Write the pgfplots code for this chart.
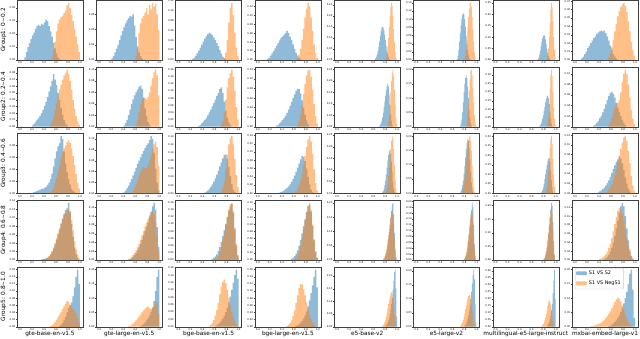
\documentclass[border=0pt]{standalone}
\usepackage{pgfplots}
\pgfplotsset{compat=1.18}
\usepgfplotslibrary{groupplots}
\usepackage{fontspec}
\setmainfont{DejaVu Sans}
\definecolor{bl}{HTML}{1F77B4}
\definecolor{or}{HTML}{FF7F0E}
\pgfplotsset{
  hb/.style={ybar interval, draw=none, fill=bl, fill opacity=0.5},
  ho/.style={ybar interval, draw=none, fill=or, fill opacity=0.5},
}
\begin{document}
\begin{tikzpicture}
\begin{groupplot}[
  group style={group size=8 by 5, horizontal sep=13.3pt, vertical sep=6.7pt},
  scale only axis, width=66pt, height=60pt,
  xmin=-0.05, xmax=1.05, ymin=0,
  enlarge y limits={value=0.05,upper},
  xtick={0,0.2,0.4,0.6,0.8,1}, xticklabels={0.0,0.2,0.4,0.6,0.8,1.0},
  scaled y ticks=false,
  /pgf/number format/fixed, /pgf/number format/fixed zerofill,
  /pgf/number format/precision=2, /pgf/number format/assume math mode=true,
  max space between ticks=10,
  tick align=outside, tick pos=left, major tick length=1pt,
  axis line style={black!75, line width=0.3pt},
  every tick/.style={black!75, line width=0.3pt},
  tick label style={font=\fontsize{2.5}{3}\selectfont, inner sep=0.6pt},
  every axis x label/.style={at={(axis description cs:0.5,0)}, anchor=north, yshift=-4pt,
    font=\fontsize{5.8}{7}\selectfont, inner sep=0pt},
  every axis y label/.style={at={(axis description cs:-0.16,0.5)}, rotate=90, anchor=south,
    font=\fontsize{5.8}{7}\selectfont, inner sep=0pt},
]
% ---------- Group 1 ----------
\nextgroupplot[ylabel={Group1: 0\textasciitilde 0.2}]
\addplot[hb] coordinates {(0.075,0.002)(0.1,0.006)(0.125,0.010)(0.15,0.013)(0.175,0.016)(0.2,0.019)(0.225,0.021)(0.25,0.024)(0.275,0.026)(0.3,0.027)(0.325,0.026)(0.35,0.028)(0.375,0.027)(0.4,0.029)(0.425,0.031)(0.45,0.030)(0.475,0.026)(0.5,0.022)(0.525,0.018)(0.55,0.013)(0.575,0.009)(0.6,0.005)(0.625,0.002)(0.65,0.001)(0.675,0)};
\addplot[ho] coordinates {(0.525,0.002)(0.55,0.008)(0.575,0.014)(0.6,0.022)(0.625,0.028)(0.65,0.031)(0.675,0.033)(0.7,0.034)(0.725,0.036)(0.75,0.038)(0.775,0.042)(0.8,0.044)(0.825,0.040)(0.85,0.035)(0.875,0.030)(0.9,0.024)(0.925,0.018)(0.95,0.012)(0.975,0.006)(1.0,0)};
\nextgroupplot
\addplot[hb] coordinates {(0.2,0.002)(0.225,0.005)(0.25,0.010)(0.275,0.015)(0.3,0.020)(0.325,0.026)(0.35,0.032)(0.375,0.038)(0.4,0.043)(0.425,0.048)(0.45,0.052)(0.475,0.055)(0.5,0.058)(0.525,0.057)(0.55,0.060)(0.575,0.045)(0.6,0.030)(0.625,0.018)(0.65,0.010)(0.675,0.005)(0.7,0.002)(0.725,0)};
\addplot[ho] coordinates {(0.6,0.005)(0.625,0.015)(0.65,0.035)(0.675,0.048)(0.7,0.055)(0.725,0.058)(0.75,0.062)(0.775,0.068)(0.8,0.060)(0.825,0.072)(0.85,0.066)(0.875,0.075)(0.9,0.070)(0.925,0.074)(0.95,0.060)(0.975,0.040)(1.0,0)};
\nextgroupplot
\addplot[hb] coordinates {(0.225,0.002)(0.25,0.005)(0.275,0.009)(0.3,0.014)(0.325,0.019)(0.35,0.025)(0.375,0.031)(0.4,0.037)(0.425,0.043)(0.45,0.048)(0.475,0.052)(0.5,0.055)(0.525,0.053)(0.55,0.050)(0.575,0.045)(0.6,0.040)(0.625,0.034)(0.65,0.028)(0.675,0.020)(0.7,0.013)(0.725,0.007)(0.75,0.003)(0.775,0.001)(0.8,0)};
\addplot[ho] coordinates {(0.75,0.004)(0.775,0.015)(0.8,0.040)(0.825,0.075)(0.85,0.105)(0.875,0.115)(0.9,0.090)(0.925,0.055)(0.95,0.025)(0.975,0.008)(1.0,0)};
\nextgroupplot
\addplot[hb] coordinates {(0.15,0.002)(0.175,0.005)(0.2,0.010)(0.225,0.015)(0.25,0.020)(0.275,0.026)(0.3,0.032)(0.325,0.038)(0.35,0.044)(0.375,0.050)(0.4,0.053)(0.425,0.057)(0.45,0.060)(0.475,0.065)(0.5,0.060)(0.525,0.052)(0.55,0.045)(0.575,0.035)(0.6,0.025)(0.625,0.016)(0.65,0.010)(0.675,0.005)(0.7,0.002)(0.725,0)};
\addplot[ho] coordinates {(0.65,0.005)(0.675,0.012)(0.7,0.025)(0.725,0.045)(0.75,0.070)(0.775,0.095)(0.8,0.115)(0.825,0.128)(0.85,0.120)(0.875,0.095)(0.9,0.065)(0.925,0.035)(0.95,0.015)(0.975,0.004)(1.0,0)};
\nextgroupplot
\addplot[hb] coordinates {(0.625,0.003)(0.6375,0.008)(0.65,0.015)(0.6625,0.025)(0.675,0.040)(0.6875,0.060)(0.7,0.085)(0.7125,0.110)(0.725,0.130)(0.7375,0.145)(0.75,0.150)(0.7625,0.148)(0.775,0.135)(0.7875,0.115)(0.8,0.090)(0.8125,0.065)(0.825,0.042)(0.8375,0.025)(0.85,0.013)(0.8625,0.006)(0.875,0.002)(0.8875,0)};
\addplot[ho] coordinates {(0.8,0.004)(0.8125,0.012)(0.825,0.030)(0.8375,0.060)(0.85,0.100)(0.8625,0.150)(0.875,0.200)(0.8875,0.240)(0.9,0.260)(0.9125,0.245)(0.925,0.200)(0.9375,0.140)(0.95,0.080)(0.9625,0.035)(0.975,0.012)(0.9875,0.003)(1.0,0)};
\nextgroupplot
\addplot[hb] coordinates {(0.675,0.003)(0.6875,0.010)(0.7,0.025)(0.7125,0.045)(0.725,0.065)(0.7375,0.085)(0.75,0.100)(0.7625,0.110)(0.775,0.115)(0.7875,0.112)(0.8,0.100)(0.8125,0.082)(0.825,0.060)(0.8375,0.040)(0.85,0.024)(0.8625,0.012)(0.875,0.005)(0.8875,0.002)(0.9,0)};
\addplot[ho] coordinates {(0.8,0.003)(0.8125,0.010)(0.825,0.025)(0.8375,0.050)(0.85,0.080)(0.8625,0.105)(0.875,0.125)(0.8875,0.138)(0.9,0.140)(0.9125,0.130)(0.925,0.105)(0.9375,0.075)(0.95,0.045)(0.9625,0.020)(0.975,0.007)(0.9875,0)};
\nextgroupplot
\addplot[hb] coordinates {(0.7,0.003)(0.7125,0.010)(0.725,0.022)(0.7375,0.040)(0.75,0.060)(0.7625,0.080)(0.775,0.095)(0.7875,0.105)(0.8,0.110)(0.8125,0.105)(0.825,0.090)(0.8375,0.070)(0.85,0.050)(0.8625,0.032)(0.875,0.018)(0.8875,0.008)(0.9,0.003)(0.9125,0)};
\addplot[ho] coordinates {(0.85,0.005)(0.8625,0.020)(0.875,0.050)(0.8875,0.100)(0.9,0.160)(0.9125,0.220)(0.925,0.250)(0.9375,0.230)(0.95,0.170)(0.9625,0.100)(0.975,0.045)(0.9875,0.012)(1.0,0)};
\nextgroupplot
\addplot[hb] coordinates {(0.1,0.002)(0.125,0.004)(0.15,0.007)(0.175,0.010)(0.2,0.014)(0.225,0.017)(0.25,0.020)(0.275,0.023)(0.3,0.026)(0.325,0.028)(0.35,0.031)(0.375,0.033)(0.4,0.034)(0.425,0.035)(0.45,0.034)(0.475,0.035)(0.5,0.032)(0.525,0.028)(0.55,0.023)(0.575,0.017)(0.6,0.012)(0.625,0.007)(0.65,0.004)(0.675,0.002)(0.7,0)};
\addplot[ho] coordinates {(0.55,0.003)(0.575,0.008)(0.6,0.015)(0.625,0.024)(0.65,0.034)(0.675,0.043)(0.7,0.052)(0.725,0.058)(0.75,0.063)(0.775,0.066)(0.8,0.068)(0.825,0.064)(0.85,0.057)(0.875,0.046)(0.9,0.034)(0.925,0.022)(0.95,0.012)(0.975,0.005)(1.0,0)};
% ---------- Group 2 ----------
\nextgroupplot[ylabel={Group2: 0.2\textasciitilde 0.4}]
\addplot[hb] coordinates {(0.2,0.002)(0.225,0.004)(0.25,0.007)(0.275,0.010)(0.3,0.013)(0.325,0.016)(0.35,0.020)(0.375,0.025)(0.4,0.031)(0.425,0.037)(0.45,0.044)(0.475,0.052)(0.5,0.060)(0.525,0.068)(0.55,0.078)(0.575,0.070)(0.6,0.062)(0.625,0.050)(0.65,0.040)(0.675,0.028)(0.7,0.018)(0.725,0.010)(0.75,0.005)(0.775,0.002)(0.8,0)};
\addplot[ho] coordinates {(0.5,0.003)(0.525,0.008)(0.55,0.015)(0.575,0.025)(0.6,0.035)(0.625,0.045)(0.65,0.055)(0.675,0.063)(0.7,0.070)(0.725,0.076)(0.75,0.080)(0.775,0.085)(0.8,0.078)(0.825,0.068)(0.85,0.055)(0.875,0.040)(0.9,0.027)(0.925,0.016)(0.95,0.008)(0.975,0.003)(1.0,0)};
\nextgroupplot
\addplot[hb] coordinates {(0.4,0.002)(0.425,0.006)(0.45,0.012)(0.475,0.020)(0.5,0.030)(0.525,0.040)(0.55,0.048)(0.575,0.055)(0.6,0.060)(0.625,0.065)(0.65,0.070)(0.675,0.072)(0.7,0.066)(0.725,0.050)(0.75,0.032)(0.775,0.018)(0.8,0.008)(0.825,0.003)(0.85,0)};
\addplot[ho] coordinates {(0.6,0.004)(0.625,0.012)(0.65,0.025)(0.675,0.038)(0.7,0.048)(0.725,0.052)(0.75,0.050)(0.775,0.048)(0.8,0.052)(0.825,0.060)(0.85,0.072)(0.875,0.085)(0.9,0.095)(0.925,0.100)(0.95,0.090)(0.975,0.055)(1.0,0)};
\nextgroupplot
\addplot[hb] coordinates {(0.325,0.002)(0.35,0.005)(0.375,0.009)(0.4,0.014)(0.425,0.019)(0.45,0.025)(0.475,0.032)(0.5,0.040)(0.525,0.048)(0.55,0.057)(0.575,0.066)(0.6,0.076)(0.625,0.086)(0.65,0.095)(0.675,0.105)(0.7,0.110)(0.725,0.095)(0.75,0.070)(0.775,0.045)(0.8,0.025)(0.825,0.012)(0.85,0.005)(0.875,0)};
\addplot[ho] coordinates {(0.7,0.004)(0.725,0.015)(0.75,0.040)(0.775,0.075)(0.8,0.110)(0.825,0.135)(0.85,0.150)(0.875,0.160)(0.9,0.140)(0.925,0.100)(0.95,0.055)(0.975,0.020)(1.0,0)};
\nextgroupplot
\addplot[hb] coordinates {(0.3,0.002)(0.325,0.004)(0.35,0.007)(0.375,0.010)(0.4,0.014)(0.425,0.018)(0.45,0.023)(0.475,0.029)(0.5,0.036)(0.525,0.043)(0.55,0.052)(0.575,0.060)(0.6,0.068)(0.625,0.075)(0.65,0.080)(0.675,0.079)(0.7,0.070)(0.725,0.055)(0.75,0.040)(0.775,0.025)(0.8,0.013)(0.825,0.005)(0.85,0)};
\addplot[ho] coordinates {(0.65,0.004)(0.675,0.012)(0.7,0.025)(0.725,0.045)(0.75,0.068)(0.775,0.090)(0.8,0.108)(0.825,0.118)(0.85,0.120)(0.875,0.105)(0.9,0.078)(0.925,0.048)(0.95,0.022)(0.975,0.007)(1.0,0)};
\nextgroupplot
\addplot[hb] coordinates {(0.7,0.003)(0.7125,0.008)(0.725,0.015)(0.7375,0.025)(0.75,0.040)(0.7625,0.060)(0.775,0.085)(0.7875,0.110)(0.8,0.135)(0.8125,0.160)(0.825,0.180)(0.8375,0.190)(0.85,0.175)(0.8625,0.140)(0.875,0.095)(0.8875,0.055)(0.9,0.025)(0.9125,0.008)(0.925,0)};
\addplot[ho] coordinates {(0.8375,0.005)(0.85,0.020)(0.8625,0.050)(0.875,0.095)(0.8875,0.150)(0.9,0.200)(0.9125,0.235)(0.925,0.250)(0.9375,0.220)(0.95,0.160)(0.9625,0.095)(0.975,0.040)(0.9875,0.012)(1.0,0)};
\nextgroupplot
\addplot[hb] coordinates {(0.725,0.003)(0.7375,0.010)(0.75,0.025)(0.7625,0.050)(0.775,0.085)(0.7875,0.120)(0.8,0.150)(0.8125,0.170)(0.825,0.180)(0.8375,0.170)(0.85,0.140)(0.8625,0.100)(0.875,0.060)(0.8875,0.030)(0.9,0.012)(0.9125,0.004)(0.925,0)};
\addplot[ho] coordinates {(0.825,0.004)(0.8375,0.015)(0.85,0.040)(0.8625,0.080)(0.875,0.125)(0.8875,0.165)(0.9,0.195)(0.9125,0.200)(0.925,0.180)(0.9375,0.135)(0.95,0.085)(0.9625,0.040)(0.975,0.014)(0.9875,0.003)(1.0,0)};
\nextgroupplot
\addplot[hb] coordinates {(0.725,0.003)(0.7375,0.008)(0.75,0.016)(0.7625,0.028)(0.775,0.045)(0.7875,0.065)(0.8,0.090)(0.8125,0.115)(0.825,0.140)(0.8375,0.160)(0.85,0.175)(0.8625,0.180)(0.875,0.165)(0.8875,0.130)(0.9,0.085)(0.9125,0.045)(0.925,0.018)(0.9375,0.005)(0.95,0)};
\addplot[ho] coordinates {(0.85,0.005)(0.8625,0.020)(0.875,0.060)(0.8875,0.130)(0.9,0.220)(0.9125,0.300)(0.925,0.330)(0.9375,0.290)(0.95,0.200)(0.9625,0.110)(0.975,0.045)(0.9875,0.012)(1.0,0)};
\nextgroupplot
\addplot[hb] coordinates {(0.3,0.002)(0.325,0.004)(0.35,0.007)(0.375,0.011)(0.4,0.016)(0.425,0.021)(0.45,0.027)(0.475,0.034)(0.5,0.042)(0.525,0.050)(0.55,0.058)(0.575,0.064)(0.6,0.066)(0.625,0.062)(0.65,0.055)(0.675,0.045)(0.7,0.036)(0.725,0.028)(0.75,0.020)(0.775,0.013)(0.8,0.007)(0.825,0.003)(0.85,0)};
\addplot[ho] coordinates {(0.55,0.003)(0.575,0.008)(0.6,0.016)(0.625,0.026)(0.65,0.036)(0.675,0.042)(0.7,0.045)(0.725,0.050)(0.75,0.065)(0.775,0.085)(0.8,0.100)(0.825,0.108)(0.85,0.100)(0.875,0.080)(0.9,0.055)(0.925,0.032)(0.95,0.015)(0.975,0.005)(1.0,0)};
% ---------- Group 3 ----------
\nextgroupplot[ylabel={Group3: 0.4\textasciitilde 0.6}]
\addplot[hb] coordinates {(0.2,0.001)(0.225,0.002)(0.25,0.003)(0.275,0.004)(0.3,0.005)(0.325,0.006)(0.35,0.007)(0.375,0.008)(0.4,0.009)(0.425,0.011)(0.45,0.014)(0.475,0.018)(0.5,0.024)(0.525,0.033)(0.55,0.045)(0.575,0.058)(0.6,0.070)(0.625,0.078)(0.65,0.083)(0.675,0.095)(0.7,0.090)(0.725,0.070)(0.75,0.050)(0.775,0.035)(0.8,0.024)(0.825,0.015)(0.85,0.008)(0.875,0.004)(0.9,0.002)(0.925,0)};
\addplot[ho] coordinates {(0.5,0.002)(0.525,0.005)(0.55,0.010)(0.575,0.017)(0.6,0.026)(0.625,0.036)(0.65,0.047)(0.675,0.058)(0.7,0.068)(0.725,0.075)(0.75,0.080)(0.775,0.085)(0.8,0.088)(0.825,0.084)(0.85,0.075)(0.875,0.062)(0.9,0.047)(0.925,0.032)(0.95,0.018)(0.975,0.008)(1.0,0)};
\nextgroupplot
\addplot[hb] coordinates {(0.4,0.002)(0.425,0.005)(0.45,0.009)(0.475,0.014)(0.5,0.020)(0.525,0.026)(0.55,0.033)(0.575,0.040)(0.6,0.047)(0.625,0.054)(0.65,0.060)(0.675,0.066)(0.7,0.072)(0.725,0.078)(0.75,0.083)(0.775,0.088)(0.8,0.092)(0.825,0.098)(0.85,0.105)(0.875,0.100)(0.9,0.075)(0.925,0.045)(0.95,0.020)(0.975,0.006)(1.0,0)};
\addplot[ho] coordinates {(0.525,0.002)(0.55,0.005)(0.575,0.010)(0.6,0.017)(0.625,0.025)(0.65,0.033)(0.675,0.040)(0.7,0.045)(0.725,0.048)(0.75,0.046)(0.775,0.047)(0.8,0.052)(0.825,0.060)(0.85,0.070)(0.875,0.082)(0.9,0.090)(0.925,0.095)(0.95,0.085)(0.975,0.050)(1.0,0)};
\nextgroupplot
\addplot[hb] coordinates {(0.425,0.002)(0.45,0.004)(0.475,0.007)(0.5,0.011)(0.525,0.016)(0.55,0.022)(0.575,0.029)(0.6,0.037)(0.625,0.046)(0.65,0.056)(0.675,0.066)(0.7,0.076)(0.725,0.086)(0.75,0.094)(0.775,0.095)(0.8,0.085)(0.825,0.065)(0.85,0.042)(0.875,0.022)(0.9,0.009)(0.925,0.003)(0.95,0)};
\addplot[ho] coordinates {(0.7,0.004)(0.725,0.012)(0.75,0.030)(0.775,0.060)(0.8,0.095)(0.825,0.120)(0.85,0.135)(0.875,0.140)(0.9,0.120)(0.925,0.085)(0.95,0.045)(0.975,0.015)(1.0,0)};
\nextgroupplot
\addplot[hb] coordinates {(0.35,0.002)(0.375,0.003)(0.4,0.005)(0.425,0.007)(0.45,0.010)(0.475,0.013)(0.5,0.017)(0.525,0.022)(0.55,0.028)(0.575,0.035)(0.6,0.043)(0.625,0.052)(0.65,0.062)(0.675,0.072)(0.7,0.082)(0.725,0.090)(0.75,0.088)(0.775,0.078)(0.8,0.060)(0.825,0.040)(0.85,0.022)(0.875,0.009)(0.9,0.003)(0.925,0)};
\addplot[ho] coordinates {(0.6,0.003)(0.625,0.006)(0.65,0.012)(0.675,0.020)(0.7,0.032)(0.725,0.048)(0.75,0.068)(0.775,0.090)(0.8,0.112)(0.825,0.130)(0.85,0.138)(0.875,0.125)(0.9,0.095)(0.925,0.058)(0.95,0.025)(0.975,0.007)(1.0,0)};
\nextgroupplot
\addplot[hb] coordinates {(0.75,0.004)(0.7625,0.010)(0.775,0.020)(0.7875,0.035)(0.8,0.055)(0.8125,0.080)(0.825,0.110)(0.8375,0.140)(0.85,0.165)(0.8625,0.180)(0.875,0.185)(0.8875,0.170)(0.9,0.135)(0.9125,0.090)(0.925,0.050)(0.9375,0.020)(0.95,0.006)(0.9625,0)};
\addplot[ho] coordinates {(0.8,0.004)(0.8125,0.012)(0.825,0.025)(0.8375,0.045)(0.85,0.075)(0.8625,0.110)(0.875,0.150)(0.8875,0.190)(0.9,0.225)(0.9125,0.245)(0.925,0.235)(0.9375,0.190)(0.95,0.120)(0.9625,0.060)(0.975,0.022)(0.9875,0.005)(1.0,0)};
\nextgroupplot
\addplot[hb] coordinates {(0.725,0.003)(0.7375,0.008)(0.75,0.016)(0.7625,0.028)(0.775,0.045)(0.7875,0.068)(0.8,0.095)(0.8125,0.125)(0.825,0.155)(0.8375,0.178)(0.85,0.190)(0.8625,0.185)(0.875,0.160)(0.8875,0.120)(0.9,0.075)(0.9125,0.038)(0.925,0.014)(0.9375,0.004)(0.95,0)};
\addplot[ho] coordinates {(0.75,0.003)(0.7625,0.008)(0.775,0.018)(0.7875,0.032)(0.8,0.052)(0.8125,0.078)(0.825,0.108)(0.8375,0.138)(0.85,0.165)(0.8625,0.185)(0.875,0.198)(0.8875,0.200)(0.9,0.185)(0.9125,0.150)(0.925,0.100)(0.9375,0.055)(0.95,0.022)(0.9625,0.006)(0.975,0)};
\nextgroupplot
\addplot[hb] coordinates {(0.75,0.003)(0.7625,0.008)(0.775,0.016)(0.7875,0.030)(0.8,0.050)(0.8125,0.075)(0.825,0.100)(0.8375,0.125)(0.85,0.150)(0.8625,0.170)(0.875,0.182)(0.8875,0.185)(0.9,0.165)(0.9125,0.120)(0.925,0.070)(0.9375,0.030)(0.95,0.008)(0.9625,0)};
\addplot[ho] coordinates {(0.825,0.005)(0.8375,0.015)(0.85,0.035)(0.8625,0.070)(0.875,0.120)(0.8875,0.180)(0.9,0.240)(0.9125,0.285)(0.925,0.300)(0.9375,0.260)(0.95,0.180)(0.9625,0.095)(0.975,0.035)(0.9875,0.008)(1.0,0)};
\nextgroupplot
\addplot[hb] coordinates {(0.375,0.002)(0.4,0.004)(0.425,0.006)(0.45,0.009)(0.475,0.012)(0.5,0.016)(0.525,0.021)(0.55,0.027)(0.575,0.034)(0.6,0.042)(0.625,0.050)(0.65,0.058)(0.675,0.065)(0.7,0.070)(0.725,0.075)(0.75,0.072)(0.775,0.062)(0.8,0.048)(0.825,0.033)(0.85,0.020)(0.875,0.010)(0.9,0.004)(0.925,0)};
\addplot[ho] coordinates {(0.5,0.002)(0.525,0.004)(0.55,0.008)(0.575,0.013)(0.6,0.020)(0.625,0.028)(0.65,0.038)(0.675,0.050)(0.7,0.064)(0.725,0.078)(0.75,0.092)(0.775,0.105)(0.8,0.115)(0.825,0.118)(0.85,0.108)(0.875,0.088)(0.9,0.062)(0.925,0.036)(0.95,0.016)(0.975,0.005)(1.0,0)};
% ---------- Group 4 ----------
\nextgroupplot[ylabel={Group4: 0.6\textasciitilde 0.8}]
\addplot[hb] coordinates {(0.35,0.001)(0.375,0.002)(0.4,0.003)(0.425,0.004)(0.45,0.006)(0.475,0.009)(0.5,0.013)(0.525,0.019)(0.55,0.027)(0.575,0.037)(0.6,0.048)(0.625,0.060)(0.65,0.072)(0.675,0.085)(0.7,0.098)(0.725,0.110)(0.75,0.118)(0.775,0.122)(0.8,0.135)(0.825,0.115)(0.85,0.085)(0.875,0.055)(0.9,0.030)(0.925,0.014)(0.95,0.005)(0.975,0)};
\addplot[ho] coordinates {(0.35,0.001)(0.375,0.002)(0.4,0.003)(0.425,0.004)(0.45,0.006)(0.475,0.009)(0.5,0.014)(0.525,0.021)(0.55,0.030)(0.575,0.040)(0.6,0.052)(0.625,0.064)(0.65,0.076)(0.675,0.088)(0.7,0.098)(0.725,0.106)(0.75,0.112)(0.775,0.118)(0.8,0.120)(0.825,0.112)(0.85,0.095)(0.875,0.070)(0.9,0.045)(0.925,0.025)(0.95,0.012)(0.975,0.004)(1.0,0)};
\nextgroupplot
\addplot[hb] coordinates {(0.5,0.002)(0.525,0.004)(0.55,0.007)(0.575,0.011)(0.6,0.016)(0.625,0.022)(0.65,0.029)(0.675,0.037)(0.7,0.046)(0.725,0.056)(0.75,0.066)(0.775,0.076)(0.8,0.086)(0.825,0.098)(0.85,0.110)(0.875,0.122)(0.9,0.130)(0.925,0.115)(0.95,0.075)(0.975,0.030)(1.0,0)};
\addplot[ho] coordinates {(0.475,0.002)(0.5,0.004)(0.525,0.007)(0.55,0.011)(0.575,0.016)(0.6,0.022)(0.625,0.029)(0.65,0.037)(0.675,0.046)(0.7,0.056)(0.725,0.066)(0.75,0.076)(0.775,0.085)(0.8,0.093)(0.825,0.102)(0.85,0.108)(0.875,0.112)(0.9,0.105)(0.925,0.085)(0.95,0.055)(0.975,0.020)(1.0,0)};
\nextgroupplot
\addplot[hb] coordinates {(0.55,0.003)(0.575,0.006)(0.6,0.010)(0.625,0.016)(0.65,0.025)(0.675,0.036)(0.7,0.050)(0.725,0.066)(0.75,0.083)(0.775,0.100)(0.8,0.118)(0.825,0.135)(0.85,0.148)(0.875,0.155)(0.9,0.130)(0.925,0.085)(0.95,0.040)(0.975,0.012)(1.0,0)};
\addplot[ho] coordinates {(0.6,0.003)(0.625,0.006)(0.65,0.012)(0.675,0.022)(0.7,0.036)(0.725,0.054)(0.75,0.075)(0.775,0.098)(0.8,0.120)(0.825,0.140)(0.85,0.155)(0.875,0.158)(0.9,0.135)(0.925,0.090)(0.95,0.045)(0.975,0.014)(1.0,0)};
\nextgroupplot
\addplot[hb] coordinates {(0.55,0.003)(0.575,0.006)(0.6,0.011)(0.625,0.018)(0.65,0.027)(0.675,0.040)(0.7,0.056)(0.725,0.075)(0.75,0.095)(0.775,0.115)(0.8,0.135)(0.825,0.150)(0.85,0.155)(0.875,0.135)(0.9,0.095)(0.925,0.055)(0.95,0.022)(0.975,0.006)(1.0,0)};
\addplot[ho] coordinates {(0.6,0.003)(0.625,0.007)(0.65,0.014)(0.675,0.026)(0.7,0.042)(0.725,0.062)(0.75,0.085)(0.775,0.110)(0.8,0.133)(0.825,0.152)(0.85,0.160)(0.875,0.140)(0.9,0.100)(0.925,0.058)(0.95,0.025)(0.975,0.007)(1.0,0)};
\nextgroupplot
\addplot[hb] coordinates {(0.775,0.003)(0.7875,0.008)(0.8,0.015)(0.8125,0.025)(0.825,0.038)(0.8375,0.055)(0.85,0.075)(0.8625,0.098)(0.875,0.122)(0.8875,0.148)(0.9,0.172)(0.9125,0.195)(0.925,0.200)(0.9375,0.160)(0.95,0.095)(0.9625,0.040)(0.975,0.010)(0.9875,0)};
\addplot[ho] coordinates {(0.7625,0.003)(0.775,0.007)(0.7875,0.013)(0.8,0.022)(0.8125,0.034)(0.825,0.050)(0.8375,0.068)(0.85,0.088)(0.8625,0.110)(0.875,0.132)(0.8875,0.152)(0.9,0.168)(0.9125,0.172)(0.925,0.160)(0.9375,0.125)(0.95,0.075)(0.9625,0.032)(0.975,0.010)(0.9875,0)};
\nextgroupplot
\addplot[hb] coordinates {(0.8,0.003)(0.8125,0.008)(0.825,0.016)(0.8375,0.028)(0.85,0.045)(0.8625,0.065)(0.875,0.090)(0.8875,0.118)(0.9,0.145)(0.9125,0.170)(0.925,0.195)(0.9375,0.180)(0.95,0.120)(0.9625,0.055)(0.975,0.015)(0.9875,0)};
\addplot[ho] coordinates {(0.7875,0.003)(0.8,0.007)(0.8125,0.014)(0.825,0.025)(0.8375,0.040)(0.85,0.060)(0.8625,0.085)(0.875,0.110)(0.8875,0.135)(0.9,0.155)(0.9125,0.165)(0.925,0.160)(0.9375,0.130)(0.95,0.085)(0.9625,0.040)(0.975,0.012)(0.9875,0)};
\nextgroupplot
\addplot[hb] coordinates {(0.8,0.003)(0.8125,0.008)(0.825,0.016)(0.8375,0.028)(0.85,0.045)(0.8625,0.068)(0.875,0.095)(0.8875,0.125)(0.9,0.155)(0.9125,0.185)(0.925,0.210)(0.9375,0.200)(0.95,0.140)(0.9625,0.070)(0.975,0.020)(0.9875,0)};
\addplot[ho] coordinates {(0.8,0.004)(0.8125,0.010)(0.825,0.020)(0.8375,0.034)(0.85,0.052)(0.8625,0.075)(0.875,0.102)(0.8875,0.132)(0.9,0.160)(0.9125,0.185)(0.925,0.195)(0.9375,0.170)(0.95,0.110)(0.9625,0.050)(0.975,0.014)(0.9875,0)};
\nextgroupplot
\addplot[hb] coordinates {(0.475,0.002)(0.5,0.004)(0.525,0.007)(0.55,0.012)(0.575,0.019)(0.6,0.028)(0.625,0.040)(0.65,0.055)(0.675,0.072)(0.7,0.090)(0.725,0.108)(0.75,0.122)(0.775,0.130)(0.8,0.122)(0.825,0.100)(0.85,0.072)(0.875,0.045)(0.9,0.024)(0.925,0.010)(0.95,0.003)(0.975,0)};
\addplot[ho] coordinates {(0.4,0.002)(0.425,0.004)(0.45,0.006)(0.475,0.009)(0.5,0.013)(0.525,0.019)(0.55,0.027)(0.575,0.037)(0.6,0.050)(0.625,0.065)(0.65,0.082)(0.675,0.098)(0.7,0.112)(0.725,0.118)(0.75,0.115)(0.775,0.105)(0.8,0.090)(0.825,0.070)(0.85,0.050)(0.875,0.032)(0.9,0.018)(0.925,0.008)(0.95,0.003)(0.975,0)};
% ---------- Group 5 ----------
\nextgroupplot[ylabel={Group5: 0.8\textasciitilde 1.0}, xlabel={gte-base-en-v1.5}]
\addplot[hb] coordinates {(0.65,0.002)(0.675,0.005)(0.7,0.010)(0.725,0.018)(0.75,0.028)(0.775,0.040)(0.8,0.052)(0.825,0.060)(0.85,0.068)(0.875,0.085)(0.9,0.110)(0.925,0.140)(0.95,0.160)(0.975,0.120)(1.0,0)};
\addplot[ho] coordinates {(0.5,0.002)(0.525,0.004)(0.55,0.008)(0.575,0.013)(0.6,0.020)(0.625,0.027)(0.65,0.034)(0.675,0.042)(0.7,0.050)(0.725,0.058)(0.75,0.065)(0.775,0.072)(0.8,0.070)(0.825,0.062)(0.85,0.055)(0.875,0.050)(0.9,0.045)(0.925,0.038)(0.95,0.025)(0.975,0.010)(1.0,0)};
\nextgroupplot[xlabel={gte-large-en-v1.5}]
\addplot[hb] coordinates {(0.675,0.002)(0.7,0.005)(0.725,0.009)(0.75,0.015)(0.775,0.022)(0.8,0.030)(0.825,0.040)(0.85,0.052)(0.875,0.068)(0.9,0.090)(0.925,0.125)(0.95,0.175)(0.975,0.200)(1.0,0)};
\addplot[ho] coordinates {(0.475,0.002)(0.5,0.004)(0.525,0.007)(0.55,0.011)(0.575,0.016)(0.6,0.022)(0.625,0.029)(0.65,0.036)(0.675,0.043)(0.7,0.050)(0.725,0.057)(0.75,0.063)(0.775,0.068)(0.8,0.070)(0.825,0.066)(0.85,0.062)(0.875,0.065)(0.9,0.075)(0.925,0.088)(0.95,0.085)(0.975,0.045)(1.0,0)};
\nextgroupplot[xlabel={bge-base-en-v1.5}]
\addplot[hb] coordinates {(0.6,0.002)(0.625,0.004)(0.65,0.007)(0.675,0.011)(0.7,0.016)(0.725,0.022)(0.75,0.030)(0.775,0.040)(0.8,0.052)(0.825,0.066)(0.85,0.082)(0.875,0.100)(0.9,0.120)(0.925,0.140)(0.95,0.155)(0.975,0.130)(1.0,0)};
\addplot[ho] coordinates {(0.5,0.002)(0.525,0.005)(0.55,0.010)(0.575,0.018)(0.6,0.030)(0.625,0.045)(0.65,0.065)(0.675,0.088)(0.7,0.108)(0.725,0.122)(0.75,0.128)(0.775,0.118)(0.8,0.100)(0.825,0.078)(0.85,0.058)(0.875,0.040)(0.9,0.026)(0.925,0.015)(0.95,0.007)(0.975,0.002)(1.0,0)};
\nextgroupplot[xlabel={bge-large-en-v1.5}]
\addplot[hb] coordinates {(0.625,0.002)(0.65,0.004)(0.675,0.007)(0.7,0.011)(0.725,0.016)(0.75,0.023)(0.775,0.032)(0.8,0.043)(0.825,0.057)(0.85,0.074)(0.875,0.094)(0.9,0.116)(0.925,0.140)(0.95,0.160)(0.975,0.110)(1.0,0)};
\addplot[ho] coordinates {(0.475,0.002)(0.5,0.005)(0.525,0.010)(0.55,0.018)(0.575,0.030)(0.6,0.046)(0.625,0.066)(0.65,0.088)(0.675,0.108)(0.7,0.120)(0.725,0.118)(0.75,0.105)(0.775,0.088)(0.8,0.068)(0.825,0.050)(0.85,0.034)(0.875,0.022)(0.9,0.012)(0.925,0.005)(0.95,0)};
\nextgroupplot[xlabel={e5-base-v2}]
\addplot[hb] coordinates {(0.8,0.003)(0.8125,0.006)(0.825,0.010)(0.8375,0.016)(0.85,0.024)(0.8625,0.035)(0.875,0.050)(0.8875,0.068)(0.9,0.090)(0.9125,0.115)(0.925,0.145)(0.9375,0.180)(0.95,0.215)(0.9625,0.225)(0.975,0.150)(0.9875,0.040)(1.0,0)};
\addplot[ho] coordinates {(0.75,0.003)(0.7625,0.006)(0.775,0.011)(0.7875,0.018)(0.8,0.027)(0.8125,0.040)(0.825,0.055)(0.8375,0.072)(0.85,0.090)(0.8625,0.107)(0.875,0.120)(0.8875,0.130)(0.9,0.135)(0.9125,0.128)(0.925,0.110)(0.9375,0.082)(0.95,0.050)(0.9625,0.022)(0.975,0.006)(0.9875,0)};
\nextgroupplot[xlabel={e5-large-v2}]
\addplot[hb] coordinates {(0.8,0.003)(0.8125,0.006)(0.825,0.011)(0.8375,0.018)(0.85,0.027)(0.8625,0.040)(0.875,0.055)(0.8875,0.075)(0.9,0.098)(0.9125,0.125)(0.925,0.155)(0.9375,0.185)(0.95,0.205)(0.9625,0.170)(0.975,0.080)(0.9875,0.015)(1.0,0)};
\addplot[ho] coordinates {(0.725,0.003)(0.7375,0.006)(0.75,0.010)(0.7625,0.016)(0.775,0.024)(0.7875,0.035)(0.8,0.048)(0.8125,0.062)(0.825,0.076)(0.8375,0.090)(0.85,0.102)(0.8625,0.110)(0.875,0.115)(0.8875,0.112)(0.9,0.100)(0.9125,0.080)(0.925,0.055)(0.9375,0.030)(0.95,0.012)(0.9625,0.003)(0.975,0)};
\nextgroupplot[xlabel={multilingual-e5-large-instruct}]
\addplot[hb] coordinates {(0.85,0.004)(0.8625,0.010)(0.875,0.020)(0.8875,0.035)(0.9,0.055)(0.9125,0.080)(0.925,0.115)(0.9375,0.165)(0.95,0.240)(0.9625,0.330)(0.975,0.410)(0.9875,0.200)(1.0,0)};
\addplot[ho] coordinates {(0.75,0.003)(0.7625,0.006)(0.775,0.011)(0.7875,0.019)(0.8,0.030)(0.8125,0.045)(0.825,0.065)(0.8375,0.090)(0.85,0.120)(0.8625,0.150)(0.875,0.175)(0.8875,0.190)(0.9,0.185)(0.9125,0.160)(0.925,0.120)(0.9375,0.075)(0.95,0.038)(0.9625,0.014)(0.975,0.004)(0.9875,0)};
\nextgroupplot[xlabel={mxbai-embed-large-v1},
  legend style={at={(axis description cs:0.045,0.98)}, anchor=north west,
    font=\fontsize{4.9}{5.5}\selectfont, draw=black!20, rounded corners=1pt,
    inner sep=0.8pt, row sep=1pt, fill=white},
  legend cell align=left,
  legend image code/.code={\fill[#1] (0pt,-1.6pt) rectangle (11pt,2.2pt);}]
\addplot[hb] coordinates {(0.55,0.002)(0.575,0.004)(0.6,0.007)(0.625,0.011)(0.65,0.016)(0.675,0.022)(0.7,0.030)(0.725,0.040)(0.75,0.052)(0.775,0.066)(0.8,0.082)(0.825,0.100)(0.85,0.122)(0.875,0.150)(0.9,0.185)(0.925,0.200)(0.95,0.130)(0.975,0.030)(1.0,0)};
\addlegendentry{S1 VS S2}
\addplot[ho] coordinates {(0.25,0.002)(0.275,0.003)(0.3,0.004)(0.325,0.005)(0.35,0.007)(0.375,0.009)(0.4,0.012)(0.425,0.015)(0.45,0.019)(0.475,0.024)(0.5,0.030)(0.525,0.037)(0.55,0.045)(0.575,0.054)(0.6,0.064)(0.625,0.075)(0.65,0.086)(0.675,0.096)(0.7,0.102)(0.725,0.098)(0.75,0.088)(0.775,0.074)(0.8,0.058)(0.825,0.042)(0.85,0.028)(0.875,0.016)(0.9,0.008)(0.925,0.003)(0.95,0)};
\addlegendentry{S1 VS NegS1}
\end{groupplot}
\pgfresetboundingbox
\path ([xshift=-17pt]group c1r1.north west) rectangle ([xshift=2pt,yshift=-11.3pt]group c8r5.south east);
\end{tikzpicture}
\end{document}
